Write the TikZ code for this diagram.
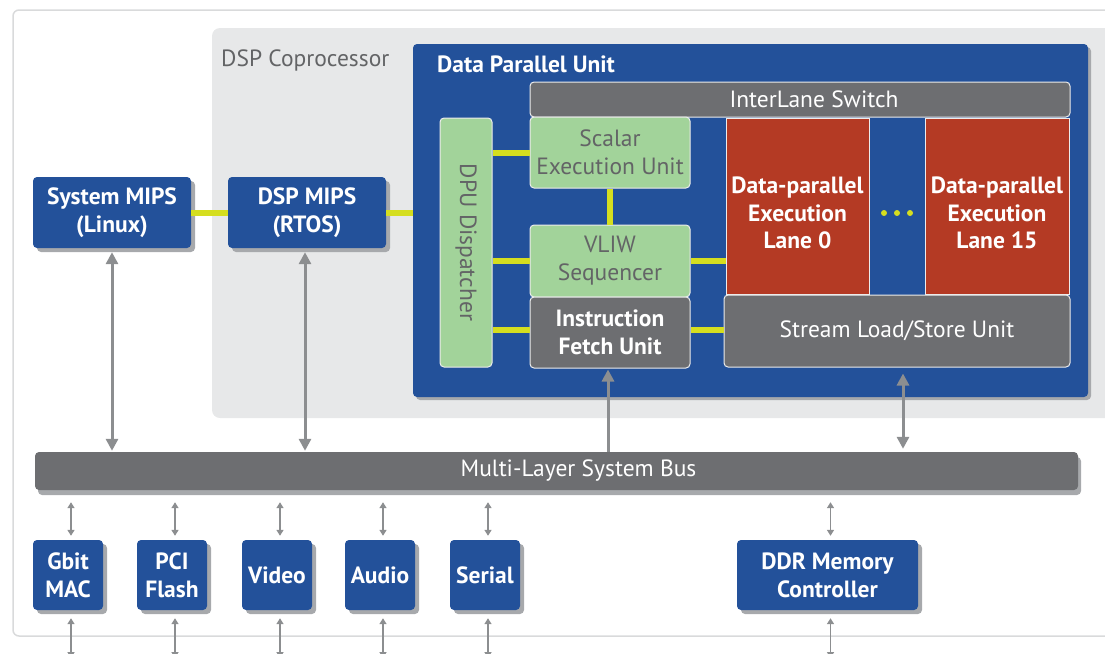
\documentclass[tikz,border=0pt]{standalone}
\usepackage{fontspec}
\setmainfont{PT Sans}
\usetikzlibrary{arrows.meta,shadows}
\definecolor{dblue}{HTML}{23519A}
\definecolor{bgray}{HTML}{6D6E71}
\definecolor{lgreen}{HTML}{A2D39A}
\definecolor{lred}{HTML}{B43A24}
\definecolor{yel}{HTML}{D5DE1F}
\definecolor{cop}{HTML}{E7E8E9}
\definecolor{agray}{HTML}{8C8E90}
\definecolor{shd}{HTML}{A7A9AC}
\definecolor{txtgray}{HTML}{636466}
\definecolor{frame}{HTML}{D9DADB}
\begin{document}
\begin{tikzpicture}[x=1pt,y=-1pt,
  every node/.style={inner sep=0pt, align=center, font=\fontsize{23.5}{28}\selectfont},
  blk/.style={rounded corners=4pt, minimum width=#1},
  bluebox/.style={blk=#1, fill=dblue, text=white, font=\fontsize{23.5}{28}\selectfont\bfseries,
     drop shadow={shadow xshift=4pt, shadow yshift=-4pt, fill=shd, opacity=1}},
  greenbox/.style={blk=#1, fill=lgreen, draw=white!85!gray, line width=1pt, text=txtgray},
  graybox/.style={blk=#1, fill=bgray, draw=white!85!gray, line width=1pt, text=white},
  redbox/.style={blk=#1, rounded corners=0pt, fill=lred, draw=white!85!gray, line width=1pt},
  lanetext/.style={text=white, font=\fontsize{23.5}{27.5}\selectfont\bfseries},
  ylink/.style={draw=yel, line width=6pt},
  bigarrow/.style={draw=agray, line width=3pt, {Triangle[length=12pt,width=12pt]}-{Triangle[length=12pt,width=12pt]}},
  uparrow/.style={draw=agray, line width=3pt, -{Triangle[length=12pt,width=12pt]}},
  smallarrow/.style={draw=agray, line width=1.6pt, {Triangle[length=6pt,width=7pt]}-{Triangle[length=6pt,width=7pt]}}
]
\useasboundingbox (0,0) rectangle (1105,653);
\clip (0,0) rectangle (1105,653);

% outer frame
\draw[frame, line width=1.5pt, rounded corners=6pt] (13,10) rectangle (1130,636);
% DSP coprocessor area
\fill[cop, rounded corners=8pt] (212,28) rectangle (1130,418);
\node[anchor=west, text=txtgray] (coplabel) at (221,60) {DSP Coprocessor};

% Data parallel unit
\node[blk=675pt, minimum height=353pt, fill=dblue,
      drop shadow={shadow xshift=3pt, shadow yshift=-3pt, fill=shd, opacity=1}] (dpu) at (750.5,220.5) {};
\node[anchor=west, text=white, font=\fontsize{23.5}{28}\selectfont\bfseries] (dpulabel) at (437,64) {Data Parallel Unit};

% inner blocks
\node[graybox=540pt, minimum height=35pt] (ils) at (800,99.5) {\hspace*{28pt}InterLane Switch};
\node[greenbox=160pt, minimum height=71pt] (scalar) at (610,152.5) {Scalar\\Execution Unit};
\node[greenbox=52pt, minimum height=249pt] (dpud) at (466,242.5) {};
\node[rotate=-90, text=txtgray] (dpudlabel) at (dpud.center) {DPU Dispatcher};
\node[greenbox=160pt, minimum height=72pt] (vliw) at (610,261) {VLIW\\Sequencer};
\node[graybox=160pt, minimum height=71pt, font=\fontsize{23.5}{28}\selectfont\bfseries] (ifu) at (610,332.5) {Instruction\\Fetch Unit};
\node[redbox=143pt, minimum height=176pt] (lane0) at (797.5,206) {};
\node[lanetext] (lane0text) at ([yshift=-7pt]lane0.center) {Data-parallel\\Execution\\Lane 0};
\node[redbox=144pt, minimum height=176pt] (lane15) at (997,206) {};
\node[lanetext] (lane15text) at ([yshift=-7pt]lane15.center) {Data-parallel\\Execution\\Lane 15};
\node[graybox=346pt, minimum height=72pt] (stream) at (897,331) {Stream Load/Store Unit};
\foreach \i/\xx in {1/884,2/897,3/910}
  \fill[yel] (\xx,213) circle (3pt);

% MIPS boxes
\node[bluebox=158pt, minimum height=71pt] (smips) at (112,212.5) {System MIPS\\(Linux)};
\node[bluebox=158pt, minimum height=71pt] (dmips) at (307,212.5) {DSP MIPS\\(RTOS)};

% bus
\node[blk=1043pt, minimum height=38pt, fill=bgray, text=white,
      drop shadow={shadow xshift=3pt, shadow yshift=-5pt, fill=shd, opacity=1}] (bus) at (556.5,471) {\hspace*{44pt}Multi-Layer System Bus};

% peripherals
\node[bluebox=70pt, minimum height=70pt] (gbit) at (68,575) {Gbit\\MAC};
\node[bluebox=70pt, minimum height=70pt] (pci) at (172,575) {PCI\\Flash};
\node[bluebox=70pt, minimum height=70pt] (video) at (277,575) {Video};
\node[bluebox=70pt, minimum height=70pt] (audio) at (380,575) {Audio};
\node[bluebox=70pt, minimum height=70pt] (serial) at (485,575) {Serial};
\node[bluebox=181pt, minimum height=70pt] (ddr) at (827.5,575) {DDR Memory\\Controller};

% yellow links
\draw[ylink] (smips.east) -- (dmips.west);
\draw[ylink] (dmips.east) -- (dmips.east -| dpu.west);
\draw[ylink] (dpud.east |- scalar.west) -- (scalar.west);
\draw[ylink] (dpud.east |- vliw.west) -- (vliw.west);
\draw[ylink] ([yshift=2.5pt]dpud.east |- ifu.west) -- ([yshift=2.5pt]ifu.west);
\draw[ylink] (scalar.south) -- (vliw.north);
\draw[ylink] (vliw.east) -- (vliw.east -| lane0.west);
\draw[ylink] ([yshift=2.5pt]ifu.east) -- ([yshift=2.5pt]ifu.east -| stream.west);

% arrows
\draw[bigarrow] ([yshift=-4pt]smips.south) -- ([yshift=1pt]smips.south |- bus.north);
\draw[bigarrow] ([xshift=-2pt,yshift=-4pt]dmips.south) -- ([xshift=-2pt,yshift=1pt]dmips.south |- bus.north);
\draw[uparrow] ([xshift=-2pt]ifu.south |- bus.north) -- ([xshift=-2pt,yshift=-1pt]ifu.south);
\coordinate (sttop) at ([xshift=6pt,yshift=-6pt]stream.south);
\draw[bigarrow] (sttop) -- ([yshift=3pt]sttop |- bus.north);

\foreach \n in {gbit,pci,video,audio,serial,ddr}{
  \draw[smallarrow] ([xshift=3pt,yshift=-12pt]\n.north |- bus.south) -- ([xshift=3pt,yshift=4pt]\n.north);
  \coordinate (\n-out) at ([xshift=3pt]\n.south |- 0,658);
  \draw[smallarrow] ([xshift=3pt,yshift=-8pt]\n.south) -- (\n-out);
}
\end{tikzpicture}
\end{document}
